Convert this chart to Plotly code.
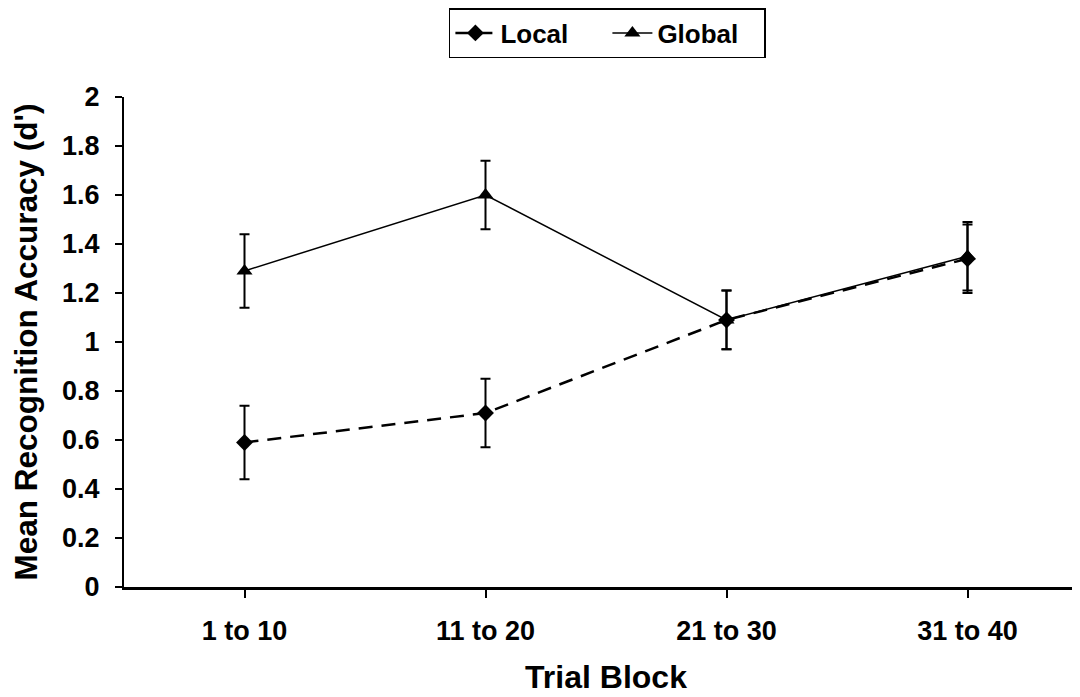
import plotly.graph_objects as go

blocks = ['1 to 10', '11 to 20', '21 to 30', '31 to 40']
local_mean = [0.59, 0.71, 1.09, 1.34]
local_err = [0.15, 0.14, 0.12, 0.14]
global_mean = [1.29, 1.60, 1.09, 1.35]
global_err = [0.15, 0.14, 0.12, 0.14]

font = 'Liberation Sans, Arial, sans-serif'

fig = go.Figure()
fig.add_trace(go.Scatter(
    x=blocks, y=local_mean, name='<b>Local</b>', mode='lines+markers',
    line=dict(color='black', width=2.5, dash='14px,9px'),
    marker=dict(symbol='diamond', size=13, color='black'),
    error_y=dict(type='data', array=local_err, color='black', thickness=2, width=5)))
fig.add_trace(go.Scatter(
    x=blocks, y=global_mean, name='<b>Global</b>', mode='lines+markers',
    line=dict(color='black', width=1.5),
    marker=dict(symbol='triangle-up', size=14, color='black'),
    error_y=dict(type='data', array=global_err, color='black', thickness=2, width=5)))

fig.update_layout(
    width=1080, height=697, template='none',
    paper_bgcolor='white', plot_bgcolor='white',
    margin=dict(l=116, r=0, t=89, b=118),
    font=dict(family=font, size=27, color='black'),
    legend=dict(orientation='h', x=0.555, xanchor='center', xref='container',
                y=1.0, yanchor='top', yref='container',
                bordercolor='black', borderwidth=1.5,
                font=dict(size=26), itemwidth=40, tracegroupgap=0,
                entrywidth=102),
    xaxis=dict(range=[-0.5, 3.5], showgrid=False, zeroline=False, showline=True,
               linecolor='black', linewidth=2.5, ticks='outside', ticklen=8,
               tickwidth=2, tickcolor='black', tickfont=dict(size=27),
               ticklabelstandoff=10,
               tickprefix='<b>', ticksuffix='</b>',
               title=dict(text='<b>Trial Block</b>', font=dict(size=32), standoff=21)),
    yaxis=dict(range=[0, 2], dtick=0.2, showgrid=False, zeroline=False, showline=True,
               linecolor='black', linewidth=2, ticks='outside', ticklen=7,
               tickwidth=2, tickcolor='black', tickfont=dict(size=27),
               ticklabelstandoff=10,
               tickprefix='<b>', ticksuffix='</b>',
               title=dict(text="<b>Mean Recognition Accuracy (d')</b>", font=dict(size=31.5), standoff=17)),
)

fig.write_html('out.html')
